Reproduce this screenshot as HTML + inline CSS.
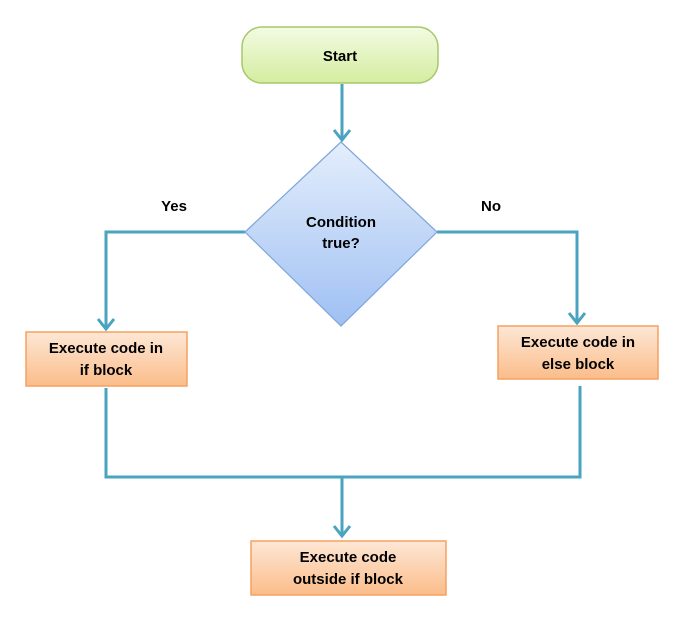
<!DOCTYPE html>
<html><head><style>body{margin:0;background:#fff}</style></head><body>
<svg width="682" height="618" xmlns="http://www.w3.org/2000/svg" font-family="Liberation Sans, sans-serif" font-weight="bold" font-size="15">
<defs>
<linearGradient id="g" x1="0" y1="0" x2="0" y2="1"><stop offset="0" stop-color="#f3fbe3"/><stop offset="1" stop-color="#d4eda0"/></linearGradient>
<linearGradient id="b" x1="0" y1="0" x2="0" y2="1"><stop offset="0" stop-color="#e4eefc"/><stop offset="1" stop-color="#9fc0f3"/></linearGradient>
<linearGradient id="o" x1="0" y1="0" x2="0" y2="1"><stop offset="0" stop-color="#fde7d6"/><stop offset="1" stop-color="#fbbd8a"/></linearGradient>
</defs>
<g stroke="#4aa3bf" stroke-width="3" fill="none">
<path d="M342 84V140M334 130l8 10 8-10"/>
<path d="M245 232H106V329M98 319l8 10 8-10"/>
<path d="M437 232H577V323M569 313l8 10 8-10"/>
<path d="M106 388V477H580V386M342 477V536M334 526l8 10 8-10"/>
</g>
<rect x="242" y="27" width="196" height="56" rx="20" fill="url(#g)" stroke="#a6c86a" stroke-width="1.5"/>
<text x="340" y="61" text-anchor="middle">Start</text>
<polygon points="341,142 437,232 341,326 245,232" fill="url(#b)" stroke="#7ea6d8" stroke-width="1.2"/>
<text x="341" y="227" text-anchor="middle">Condition</text>
<text x="341" y="248" text-anchor="middle">true?</text>
<text x="174" y="211" text-anchor="middle">Yes</text>
<text x="491" y="211" text-anchor="middle">No</text>
<rect x="26" y="332" width="161" height="54" fill="url(#o)" stroke="#f5a060" stroke-width="1.5"/>
<text x="106" y="353" text-anchor="middle">Execute code in</text>
<text x="106" y="375" text-anchor="middle">if block</text>
<rect x="498" y="326" width="160" height="53" fill="url(#o)" stroke="#f5a060" stroke-width="1.5"/>
<text x="578" y="347" text-anchor="middle">Execute code in</text>
<text x="578" y="369" text-anchor="middle">else block</text>
<rect x="251" y="541" width="195" height="54" fill="url(#o)" stroke="#f5a060" stroke-width="1.5"/>
<text x="348" y="562" text-anchor="middle">Execute code</text>
<text x="348" y="584" text-anchor="middle">outside if block</text>
</svg>
</body></html>
